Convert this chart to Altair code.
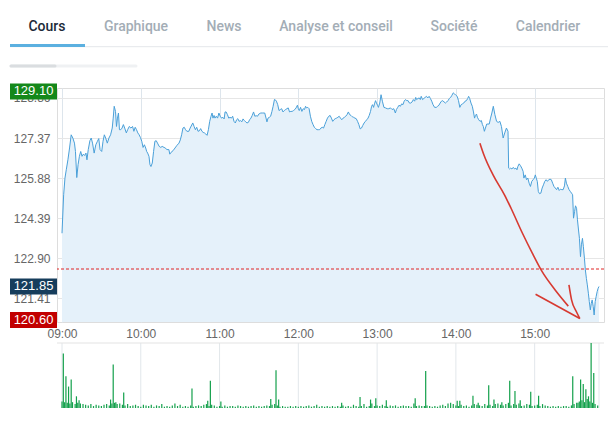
import altair as alt
import pandas as pd

# ---------------- price series: minutes after 09:00 / price ----------------
t_a = [0, 1.25, 2.25, 3.25, 4.5, 5.75, 7, 8.25, 9.5, 10.25,
       11.25, 12.25, 13.25, 14.25, 15.25, 16.25, 17.25, 18.25, 19, 20,
       21.25, 22.25, 23.25, 24.5, 25.75, 27, 28, 29, 30.25, 31.25,
       32.25, 33.25, 34.5, 35.75, 37, 38.25, 39, 39.75, 40.75, 41.5,
       42.25, 43, 43.75, 44.75, 45.75, 46.75, 47.75, 49, 50, 51.25,
       52.5, 53.75, 54.75, 55.75, 56.75, 57.75, 58.75, 59.75, 60.75, 61.75,
       62.75, 63.75, 64.5, 65.25, 66.25, 67, 67.75, 68.75, 69.75, 70.75,
       71.75, 72.75, 74, 75.25, 76.25, 77.75, 78.75, 79.75]
v_a = [123.83, 125.26, 125.88, 126.19, 126.56, 127.00, 127.49, 127.37, 127.18, 126.87,
       125.90, 126.38, 126.69, 126.87, 126.69, 126.77, 126.72, 126.81, 126.56, 126.94,
       127.27, 127.37, 127.18, 126.81, 127.12, 127.25, 127.35, 126.94, 126.87, 127.25,
       127.49, 127.37, 127.18, 127.37, 127.49, 127.74, 128.11, 128.55, 128.36, 127.80,
       128.11, 128.30, 127.68, 127.68, 127.74, 127.87, 127.74, 127.56, 127.68, 127.80,
       127.74, 127.80, 127.62, 127.77, 127.68, 127.56, 127.49, 127.39, 127.25, 127.02,
       127.12, 127.00, 126.87, 126.81, 126.69, 126.38, 126.31, 126.44, 126.87, 127.25,
       127.27, 127.18, 127.06, 127.02, 127.06, 127.02, 127.00, 126.94]

t_b = [81.4, 82.1, 83.1, 84.6, 86.1, 87.6, 89.1, 90.1, 91.1, 92.1,
       93.1, 94.1, 95.1, 96.6, 97.6, 99.6, 100.6, 101.6, 102.6, 103.6,
       104.6, 105.6, 106.6, 107.5, 108.5, 109.5, 110.5, 111.5, 112.5, 113.5,
       114.3, 115.0, 115.8, 116.5, 117.5, 118.5, 119.5, 120.5, 121.5, 122.5,
       123.5, 124.2, 125.0, 126.0, 127.0, 128.0, 129.0, 130.0, 131.0, 132.0,
       133.0, 133.9, 134.9, 135.9, 136.9, 137.9, 138.9, 139.9, 140.9, 141.9,
       142.9, 143.9, 144.9, 145.9, 146.9, 147.9, 148.9, 149.9, 151.4, 152.9,
       154.4, 155.4, 156.1, 156.9, 157.9, 158.9, 159.9, 160.8, 161.8]
v_b = [126.94, 126.77, 126.84, 126.90, 127.00, 127.10, 127.18, 127.30, 127.49, 127.74,
       127.77, 127.68, 127.62, 127.62, 127.74, 127.93, 127.80, 127.68, 127.77, 127.62,
       127.64, 127.72, 127.62, 127.58, 127.56, 127.52, 127.47, 127.68, 127.99, 128.18,
       128.30, 128.11, 128.21, 128.11, 128.18, 128.11, 128.30, 128.18, 128.11, 128.14,
       128.08, 128.34, 128.34, 128.24, 128.11, 128.14, 128.11, 128.18, 127.99, 127.93,
       128.05, 128.09, 127.99, 128.02, 127.97, 128.08, 128.02, 127.97, 127.93, 127.95,
       128.05, 128.11, 128.21, 128.34, 128.18, 128.20, 128.18, 128.26, 128.30, 128.30,
       128.30, 128.11, 127.97, 128.11, 128.14, 128.18, 128.36, 128.55, 128.80]

t_c = [162.3, 163.3, 164.3, 165.3, 166.3, 167.3, 168.3, 169.3, 170.3, 171.3,
       172.3, 173.3, 174.3, 175.3, 176.3, 177.3, 178.3, 179.3, 180.0, 180.7,
       181.7, 182.7, 183.7, 184.7, 185.5, 186.2, 187.2, 188.2, 189.2, 190.2,
       191.2, 192.2, 193.2, 194.2, 195.2, 196.2, 197.2, 198.2, 199.2, 200.2,
       201.2, 202.2, 203.2, 204.2, 205.2, 206.2, 207.1, 208.1, 209.1, 210.1,
       211.1, 212.1, 213.1, 214.1, 215.1, 216.1, 217.1, 218.1, 219.1, 220.1,
       221.1, 222.1, 223.1, 224.1, 225.1, 226.1, 227.1, 228.1, 229.1, 230.1,
       231.1, 232.1, 233.1, 234.0, 235.0, 235.8, 236.5, 237.3, 238.0, 238.8,
       239.5, 240.3, 241.0, 242.0, 243.0, 244.0]
v_c = [128.80, 128.74, 128.61, 128.39, 128.43, 128.46, 128.34, 128.39, 128.43, 128.46,
       128.49, 128.34, 128.36, 128.36, 128.39, 128.43, 128.49, 128.59, 128.46, 128.39,
       128.51, 128.36, 128.46, 128.43, 128.55, 128.49, 128.51, 128.46, 128.18, 127.99,
       127.87, 127.77, 127.72, 127.68, 127.68, 127.68, 127.74, 127.77, 127.74, 127.87,
       127.99, 128.11, 128.18, 128.21, 128.11, 127.99, 128.05, 128.09, 128.11, 128.14,
       128.18, 128.11, 128.05, 128.11, 128.14, 128.18, 128.24, 128.34, 128.24, 128.21,
       128.16, 128.14, 128.11, 128.09, 127.99, 127.87, 127.71, 127.74, 127.84, 127.93,
       127.99, 128.05, 128.11, 128.21, 128.36, 128.55, 128.61, 128.51, 128.64, 128.76,
       128.67, 128.59, 128.51, 128.67, 128.98, 128.74]

t_d = [245.2, 246.4, 247.7, 248.9, 250.2, 251.4, 252.7, 253.9, 254.7, 255.7,
       256.7, 257.7, 258.7, 259.7, 260.6, 261.6, 262.6, 263.6, 264.6, 265.6,
       266.6, 267.6, 268.6, 269.4, 270.1, 271.1, 272.1, 272.9, 273.6, 274.6,
       275.6, 276.6, 277.6, 278.6, 279.6, 280.6, 281.6, 282.6, 283.8, 285.1,
       286.1, 287.1, 288.0, 289.0, 290.0, 291.0, 292.0, 293.0, 294.0, 295.0,
       296.0, 297.0, 298.0, 299.0, 300.0, 301.0, 302.0, 303.0, 304.0, 305.0,
       306.0, 307.0, 308.0, 309.0, 309.7, 310.5, 311.5, 312.5, 313.4, 314.2,
       314.9, 315.7, 316.4, 317.4, 318.4, 319.4, 320.2, 320.9, 321.7, 322.5,
       323.5, 324.4, 325.4, 326.4, 327.4]
v_d = [128.51, 128.49, 128.46, 128.46, 128.49, 128.43, 128.46, 128.30, 128.43, 128.51,
       128.59, 128.55, 128.64, 128.61, 128.74, 128.80, 128.76, 128.76, 128.67, 128.67,
       128.71, 128.80, 128.74, 128.88, 128.80, 128.84, 128.86, 128.80, 128.92, 128.80,
       128.84, 128.88, 128.92, 128.86, 128.92, 128.84, 128.74, 128.61, 128.51, 128.51,
       128.55, 128.59, 128.67, 128.74, 128.76, 128.71, 128.67, 128.71, 128.76, 128.84,
       128.88, 128.96, 129.05, 129.01, 128.96, 128.92, 128.76, 128.51, 128.61, 128.64,
       128.67, 128.74, 128.76, 128.84, 128.92, 128.84, 128.67, 128.55, 128.34, 128.11,
       128.21, 128.26, 128.14, 128.05, 127.99, 128.02, 127.87, 127.80, 127.62, 127.74,
       127.89, 127.89, 127.89, 128.11, 128.30]

t_e = [328.5, 329.7, 331.0, 332.2, 333.5, 334.7, 336.0, 337.2, 338.5, 339.7,
       340.2, 340.9, 341.7, 342.7, 343.7, 344.7, 345.7, 346.5, 347.2, 348.2,
       349.2, 350.2, 351.2, 351.8, 352.8, 353.8, 354.8, 355.8, 356.8, 357.8,
       358.8, 359.8, 360.5, 361.2, 362.0, 362.8, 363.7, 364.7, 365.7, 366.7,
       367.7, 368.7, 369.7, 370.7, 371.7, 372.7, 373.7, 374.7, 375.7, 376.7,
       377.7, 378.7, 379.7, 380.7, 381.7, 382.7, 383.4, 384.2, 385.2, 386.2,
       387.2, 388.1, 388.9, 389.6, 390.4, 391.1, 391.9, 392.6, 393.4, 394.1,
       394.9, 395.6, 396.4, 397.1, 397.9, 398.6, 399.4, 400.1, 400.9, 401.6,
       402.4, 403.1, 403.8, 404.6, 405.3, 406.1, 406.8, 407.6, 408.3, 409.0]
v_e = [128.55, 128.24, 127.99, 127.95, 127.99, 127.80, 127.37, 127.56, 127.74, 127.62,
       126.25, 126.22, 126.25, 126.22, 126.28, 126.22, 126.25, 126.19, 126.31, 126.41,
       126.34, 126.25, 126.13, 125.88, 126.00, 125.82, 125.88, 125.69, 125.57, 125.76,
       125.82, 125.88, 126.00, 125.88, 125.76, 125.38, 125.30, 125.32, 125.51, 125.63,
       125.76, 125.82, 125.76, 125.82, 125.84, 125.82, 125.69, 125.57, 125.51, 125.45,
       125.54, 125.42, 125.47, 125.45, 125.45, 125.59, 125.88, 125.69, 125.57, 125.45,
       125.38, 125.32, 125.26, 124.39, 124.64, 124.85, 124.76, 124.33, 123.95, 123.64,
       122.96, 123.40, 123.64, 123.33, 122.90, 122.47, 122.15, 121.91, 121.60, 121.29,
       120.98, 121.22, 121.35, 121.10, 120.79, 121.29, 121.47, 121.66, 121.78, 121.85]

price_min = t_a + t_b + t_c + t_d + t_e
price_val = v_a + v_b + v_c + v_d + v_e

# ---------------- volume: background bars every 2 minutes + spikes ----------------
vol_base = [10, 9, 8, 7, 9, 6, 8, 7, 6, 5,
            4, 6, 3, 5, 4, 3, 5, 6, 4, 7,
            8, 6, 7, 5, 4, 6, 3, 4, 5, 3,
            2, 5, 4, 3, 5, 2, 4, 3, 6, 2,
            3, 2, 4, 7, 3, 5, 2, 3, 2, 4,
            2, 3, 4, 3, 5, 6, 3, 5, 4, 2,
            3, 2, 4, 2, 3, 3, 2, 4, 3, 2,
            3, 2, 3, 4, 2, 3, 2, 3, 4, 3,
            5, 6, 4, 2, 3, 2, 2, 3, 2, 3,
            2, 3, 2, 3, 4, 2, 3, 5, 2, 3,
            2, 3, 2, 3, 2, 3, 2, 4, 2, 3,
            2, 5, 3, 2, 3, 6, 2, 3, 7, 3,
            4, 3, 5, 3, 2, 4, 3, 4, 2, 3,
            4, 3, 3, 2, 7, 3, 4, 3, 3, 4,
            3, 2, 3, 2, 4, 5, 3, 7, 8, 6,
            4, 3, 5, 3, 4, 2, 4, 6, 5, 4,
            3, 6, 4, 5, 3, 6, 7, 5, 4, 6,
            8, 4, 6, 5, 7, 3, 4, 6, 5, 3,
            4, 5, 3, 6, 4, 3, 2, 3, 2, 3,
            2, 3, 3, 2, 4, 6, 8, 10, 12, 9,
            14, 10, 8, 6, 4]
vol_spike_min = [1, 3, 5, 7, 11, 13, 37, 39, 41, 47,
                 99, 111, 113, 121, 159, 163, 165, 213, 227, 235,
                 239, 247, 269, 277, 301, 303, 313, 317, 325, 329,
                 335, 341, 345, 349, 357, 363, 389, 393, 395, 397,
                 399, 401, 403, 405]
vol_spike_val = [84, 49, 33, 44, 18, 12, 13, 67, 9, 24,
                 30, 11, 42, 10, 14, 58, 13, 8, 17, 13,
                 15, 12, 15, 57, 11, 11, 19, 8, 35, 13,
                 9, 42, 26, 12, 25, 19, 49, 8, 44, 37,
                 29, 18, 100, 54]

# ---------------- other values ----------------
y_ticks = [121.41, 122.90, 124.39, 125.88, 127.37, 128.86]
x_ticks = [0, 60, 120, 180, 240, 300, 360]
vol_grid_min = [0, 60, 120, 180, 240, 300, 360, 409]
prev_close = 122.50
badge_vals = [129.10, 121.85, 120.60]
badge_labels = ["129.10", "121.85", "120.60"]
badge_colors = ["#14881a", "#163d5c", "#c20000"]

tabs = ["Cours", "Graphique", "News", "Analyse et conseil", "Société", "Calendrier"]
tab_colors = ["#1c2a39", "#a3adb6", "#a3adb6", "#a3adb6", "#a3adb6", "#a3adb6"]
tab_x = [-10, 79, 167, 279, 397, 491]

annot_main_min = [318.3, 321.3, 328.3, 337.0, 342.0, 350.7, 358.2, 365.7, 375.6, 385.6]
annot_main_val = [127.18, 126.75, 126.00, 125.26, 124.76, 123.83, 123.09, 122.40, 121.72, 121.12]
annot_low_min = [360.7, 394.4]
annot_low_val = [121.56, 120.66]
annot_up_min = [386.1, 388.1, 391.8, 394.4]
annot_up_val = [121.91, 121.35, 120.91, 120.66]

W, H = 547, 234
AXFONT = "Liberation Sans"

price_df = pd.DataFrame({"m": price_min, "v": price_val})
vol_df = pd.DataFrame({
    "m": [2 * i for i in range(len(vol_base))] + vol_spike_min,
    "vol": vol_base + vol_spike_val,
})
annot_df = pd.DataFrame({
    "g": ["a"] * len(annot_main_min) + ["b"] * len(annot_low_min) + ["c"] * len(annot_up_min),
    "m": annot_main_min + annot_low_min + annot_up_min,
    "v": annot_main_val + annot_low_val + annot_up_val,
})
badge_df = pd.DataFrame({"v": badge_vals, "lab": badge_labels, "c": badge_colors})

xaxis = alt.Axis(values=x_ticks, labelExpr="(datum.value == 0 ? '09' : '' + (9 + datum.value / 60)) + ':00'",
                 grid=True, gridColor="#dde5ec", ticks=False, domain=False, labelFlush=False,
                 labelPadding=6, labelFont=AXFONT, labelFontSize=12, labelColor="#666666", title=None)
X = alt.X("m:Q", scale=alt.Scale(domain=[0, 409], nice=False, zero=False), axis=xaxis)

yaxis = alt.Axis(values=y_ticks, format=".2f", grid=True, gridColor="#e6e6e6", ticks=False, domain=False,
                 labelPadding=7, labelFont=AXFONT, labelFontSize=12, labelColor="#666666", title=None)
Y = alt.Y("v:Q", scale=alt.Scale(domain=[120.53, 129.23], nice=False, zero=False), axis=yaxis, stack=None)

VY = alt.Y("vol:Q", scale=alt.Scale(domain=[0, 100], range=[320, 255], nice=False), axis=None, stack=None)

one = pd.DataFrame({"a": [0]})

area = alt.Chart(price_df).mark_area(color="#e5f1fa").encode(x=X, y=Y, y2=alt.value(H))
line = alt.Chart(price_df).mark_line(color="#4aa0d9", strokeWidth=1).encode(x=X, y=Y)
prev = alt.Chart(pd.DataFrame({"v": [prev_close]})).mark_rule(
    color="#e02424", strokeDash=[3, 2], strokeWidth=1).encode(y=Y)
annot = alt.Chart(annot_df).mark_line(color="#d73a31", strokeWidth=1.6, interpolate="monotone").encode(
    x=X, y=Y, detail="g:N")
badges = alt.Chart(badge_df).mark_tick(size=47, thickness=16, opacity=1).encode(
    x=alt.value(-23.5), y=Y, color=alt.Color("c:N", scale=None))
badge_txt = alt.Chart(badge_df).mark_text(color="white", fontSize=13, font=AXFONT, baseline="middle").encode(
    x=alt.value(-23.5), y=Y, text="lab:N")

deco = []
deco.append(alt.Chart(one).mark_rule(color="#e4e7ea", strokeWidth=1).encode(
    x=alt.value(-47), x2=alt.value(551), y=alt.value(-41.3)))
deco.append(alt.Chart(one).mark_rule(color="#5bb0e0", strokeWidth=3).encode(
    x=alt.value(-47), x2=alt.value(28), y=alt.value(-42.6)))
deco.append(alt.Chart(one).mark_rule(color="#eff1f3", strokeWidth=3, strokeCap="round").encode(
    x=alt.value(-46), x2=alt.value(79), y=alt.value(-22)))
deco.append(alt.Chart(one).mark_rule(color="#dadde0", strokeWidth=3, strokeCap="round").encode(
    x=alt.value(-46), x2=alt.value(-2), y=alt.value(-22)))
for name, col, tx in zip(tabs, tab_colors, tab_x):
    deco.append(alt.Chart(one).mark_text(font="Roboto", fontSize=14, fontWeight=500, color=col,
                                         baseline="middle").encode(
        x=alt.value(tx), y=alt.value(-61.3), text=alt.value(name)))

vgrid = alt.Chart(pd.DataFrame({"m": vol_grid_min, "vol": [0] * len(vol_grid_min),
                                "vol2": [100] * len(vol_grid_min)})).mark_rule(
    color="#e2e7eb").encode(x=X, y=VY, y2="vol2:Q")
vtop = alt.Chart(pd.DataFrame({"vol": [100]})).mark_rule(color="#e3e3e3").encode(y=VY)
bars = alt.Chart(vol_df).mark_bar(size=1.2, color="#13a04b", orient="vertical").encode(x=X, y=VY)

price_group = alt.layer(area, line, prev, annot, badges, badge_txt, *deco)
vol_group = alt.layer(vgrid, vtop, bars)

chart = alt.layer(price_group, vol_group).resolve_scale(y="independent").properties(
    width=W, height=H,
    autosize=alt.AutoSizeParams(type="none"),
    padding={"left": 49, "top": 80, "right": 4, "bottom": 96},
).configure_view(stroke="#e6e6e6").configure(background="white")

chart.save("out.html", embed_options={"renderer": "svg", "actions": False})
